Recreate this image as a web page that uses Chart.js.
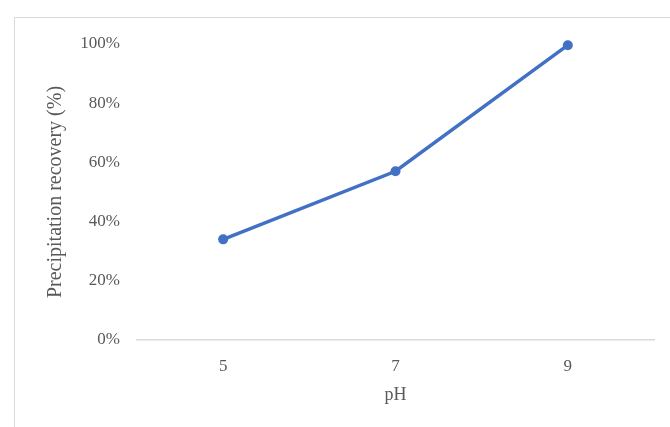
<!DOCTYPE html>
<html>
<head>
<meta charset="utf-8">
<script src="https://cdn.jsdelivr.net/npm/chart.js@4.4.1/dist/chart.umd.min.js"></script>
<style>
  html, body { margin: 0; padding: 0; background: #ffffff; overflow: hidden; }
  #wrap { position: relative; width: 670px; height: 427px; }
  #frame { position: absolute; left: 14px; top: 17px; width: 720px; height: 460px;
           border: 1px solid #d9d9d9; box-sizing: border-box; }
  canvas { position: absolute; left: 0; top: 0; }
</style>
</head>
<body>
<div id="wrap">
  <div id="frame"></div>
  <canvas id="chart" width="670" height="427"></canvas>
</div>
<script>
// pH levels tested and recovery of the precipitate at each
const phLevels = ['5', '7', '9'];
const recoveryPct = [34, 57, 99.6];
const yTicks = [0, 20, 40, 60, 80, 100];

const textColor = '#595959';
const serif = "'Liberation Serif', 'Times New Roman', serif";

new Chart(document.getElementById('chart'), {
  type: 'line',
  data: {
    labels: phLevels,
    datasets: [{
      data: recoveryPct,
      borderColor: '#4170C4',
      backgroundColor: '#4170C4',
      borderWidth: 3.5,
      pointRadius: 5,
      pointHoverRadius: 5,
      pointBorderWidth: 0,
      tension: 0,
      clip: false
    }]
  },
  options: {
    responsive: false,
    animation: false,
    events: [],
    layout: { padding: { left: 15, top: 44, right: 16, bottom: 0 } },
    plugins: { legend: { display: false }, tooltip: { enabled: false } },
    scales: {
      x: {
        type: 'category',
        offset: true,
        grid: { display: false, drawTicks: false },
        border: { display: true, color: '#d9d9d9', width: 1.5 },
        ticks: { color: textColor, font: { family: serif, size: 17 }, padding: 16 },
        title: { display: true, text: 'pH', color: textColor,
                 font: { family: serif, size: 18 }, padding: { top: 0, bottom: 21 } },
        afterFit: (s) => { s.height = 87; }
      },
      y: {
        min: 0,
        max: 100,
        afterBuildTicks: (s) => { s.ticks = yTicks.map(v => ({ value: v })); },
        grid: { display: false, drawTicks: false },
        border: { display: false },
        ticks: { color: textColor, font: { family: serif, size: 17 }, padding: 17,
                 callback: (v) => v + '%' },
        title: { display: true, text: 'Precipitation recovery (%)', color: textColor,
                 font: { family: serif, size: 20 }, padding: { top: 29, bottom: 0 } },
        afterFit: (s) => { s.width = 122; }
      }
    }
  }
});
</script>
</body>
</html>
